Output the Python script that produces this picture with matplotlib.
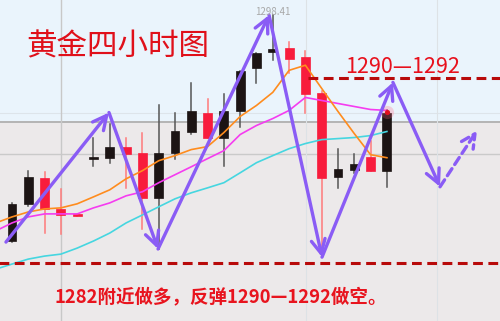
import matplotlib
matplotlib.use("Agg")
import matplotlib.pyplot as plt
from matplotlib.patches import Rectangle, FancyArrowPatch

# 4h gold candles (open, high, low, close); red = falling, black = rising
opens = [1283.41, 1285.88, 1287.61, 1285.54, 1285.21, 1288.88, 1288.94, 1289.68,
         1289.28, 1286.28, 1289.28, 1290.68, 1291.94, 1290.28, 1292.01, 1294.88,
         1295.94, 1296.21, 1295.61, 1293.21, 1287.68, 1288.14, 1289.01, 1288.08]
highs = [1285.94, 1288.08, 1288.01, 1286.88, 1285.21, 1290.28, 1291.21, 1290.28,
         1290.61, 1292.41, 1291.94, 1293.88, 1292.81, 1293.14, 1294.68, 1295.88,
         1298.41, 1296.61, 1296.01, 1293.34, 1289.54, 1289.21, 1290.08, 1292.08]
lows = [1283.34, 1285.74, 1283.94, 1283.88, 1285.08, 1288.41, 1288.61, 1286.94,
        1284.21, 1282.88, 1288.88, 1290.54, 1290.28, 1288.41, 1291.01, 1293.88,
        1295.41, 1294.54, 1291.88, 1282.54, 1286.94, 1287.94, 1288.08, 1287.01]
closes = [1285.88, 1287.68, 1285.54, 1285.14, 1285.08, 1289.01, 1289.68, 1289.21,
          1286.28, 1289.28, 1290.74, 1292.01, 1290.28, 1292.01, 1294.68, 1295.88,
          1296.14, 1295.48, 1293.14, 1287.61, 1288.21, 1288.54, 1288.08, 1291.88]

# moving averages, first value sits one bar left of the first candle
ma_fast = [1284.61, 1285.01, 1285.34, 1285.54, 1285.61, 1285.88, 1286.34, 1286.81,
           1287.54, 1288.08, 1288.74, 1289.08, 1289.48, 1289.68, 1290.61, 1291.68,
           1292.41, 1293.28, 1294.74, 1295.08, 1293.54, 1292.01, 1290.54, 1289.14, 1288.94]
ma_mid = [1284.08, 1284.61, 1285.01, 1285.21, 1285.21, 1285.21, 1285.61, 1285.94,
          1286.41, 1286.68, 1287.28, 1287.81, 1288.34, 1288.88, 1289.41, 1290.48,
          1291.08, 1291.54, 1292.08, 1292.94, 1292.74, 1292.54, 1292.34, 1292.14, 1292.08]
ma_slow = [1281.54, 1281.88, 1282.21, 1282.41, 1282.54, 1282.94, 1283.41, 1283.94,
           1284.61, 1285.14, 1285.68, 1286.21, 1286.61, 1286.94, 1287.28, 1287.94,
           1288.61, 1289.08, 1289.54, 1289.88, 1290.14, 1290.21, 1290.28, 1290.41, 1290.68]

# purple zig-zag forecast (bar position, price)
zz_x = [-0.37, 5.95, 8.96, 15.77, 19.02, 23.37, 26.26]
zz_y = [1283.34, 1291.94, 1282.88, 1298.41, 1282.34, 1293.94, 1287.01]
next_x, next_y = 28.53, 1290.74

resist_level = 1294.21
support_level = 1281.94
high_label = "1298.41"

RED = "#f81c3c"
BLACK = "#1c1414"
PURPLE = "#8a5cf5"
DASHRED = "#b80a0a"

fig = plt.figure(figsize=(5, 3.21), dpi=100)
ax = fig.add_axes([0, 0, 1, 1])
ax.set_xlim(-0.736, 29.94)
ax.set_ylim(1278.10, 1299.41)
ax.axis("off")

# two-tone background + grid
ax.axhspan(1291.28, 1299.41, color="#eaf4fc", zorder=0)
ax.axhspan(1278.10, 1291.28, color="#ece9ea", zorder=0)
ax.axhline(1291.28, color="#b4b4b4", lw=1.4, zorder=1)
ax.axhline(1289.21, color="#cacaca", lw=1.0, zorder=1)
ax.axhline(1291.88, color="#dde4ea", lw=0.8, zorder=1)
ax.axvline(3.0, color="#c8c8c8", lw=1.0, zorder=1)
ax.axvline(18.04, color="#dde2e6", lw=0.8, zorder=1)
ax.axvline(26.07, color="#dde2e6", lw=0.8, zorder=1)

# candles
w = 0.55
for i in range(len(opens)):
    o, h, l, c = opens[i], highs[i], lows[i], closes[i]
    col = RED if c < o else BLACK
    wick = "#ff7a7a" if c < o else "#555555"
    ax.plot([i, i], [l, h], color=wick, lw=1.1, zorder=2)
    lo = min(o, c)
    ht = max(abs(c - o), 0.12)
    ax.add_patch(Rectangle((i - w / 2, lo), w, ht, facecolor=col, edgecolor=col,
                           lw=0.5, zorder=3))

# moving averages
xs = list(range(-1, len(opens)))
ax.plot(xs, ma_slow, color="#46d6e0", lw=1.2, zorder=4)
ax.plot(xs, ma_mid, color="#f53cf0", lw=1.2, zorder=4)
ax.plot(xs, ma_fast, color="#ff8c1e", lw=1.2, zorder=4)

# glow on last candle
ax.scatter([23], [1291.95], s=90, color="#ff6080", alpha=0.25, lw=0, zorder=5)
ax.scatter([23], [1291.95], s=14, color="#e01020", lw=0, zorder=5)

# support / resistance
ax.plot([18.16, 30], [resist_level, resist_level], color=DASHRED, lw=2.2,
        dashes=(3.2, 1.8), zorder=6)
ax.plot([-1, 30], [support_level, support_level], color=DASHRED, lw=2.2,
        dashes=(3.2, 1.8), zorder=6)

# zig-zag arrows
for k in range(len(zz_x) - 1):
    a = FancyArrowPatch((zz_x[k], zz_y[k]), (zz_x[k + 1], zz_y[k + 1]),
                        arrowstyle="->,head_length=1.0,head_width=0.5",
                        mutation_scale=10, color=PURPLE, lw=2.4,
                        shrinkA=0, shrinkB=0, zorder=7)
    ax.add_patch(a)
a = FancyArrowPatch((zz_x[-1], zz_y[-1]), (next_x, next_y),
                    arrowstyle="->,head_length=1.0,head_width=0.5",
                    mutation_scale=10, color=PURPLE, lw=2.4, linestyle=(0, (2.5, 1.5)),
                    shrinkA=0, shrinkB=0, zorder=7)
ax.add_patch(a)

cjk = ["Noto Sans CJK SC", "DejaVu Sans"]
ax.text(0.236, 0.854, "黄金四小时图", transform=ax.transAxes, family=cjk,
        fontsize=22, color="#e0101a", ha="center", va="center", zorder=8)
ax.text(0.69, 0.79, "1290—1292", transform=ax.transAxes, family=cjk,
        fontsize=15.5, color="#e8101c", ha="left", va="center", zorder=8)
ax.text(0.546, 0.963, high_label, transform=ax.transAxes, family=cjk,
        fontsize=7, color="#a8a8a8", ha="center", va="center", zorder=8)
ax.text(0.11, 0.075, "1282附近做多，反弹1290—1292做空。", transform=ax.transAxes,
        family=cjk, fontsize=13.3, fontweight="bold", color="#e8141e",
        ha="left", va="center", zorder=8)

fig.savefig("out.png", dpi=100)
